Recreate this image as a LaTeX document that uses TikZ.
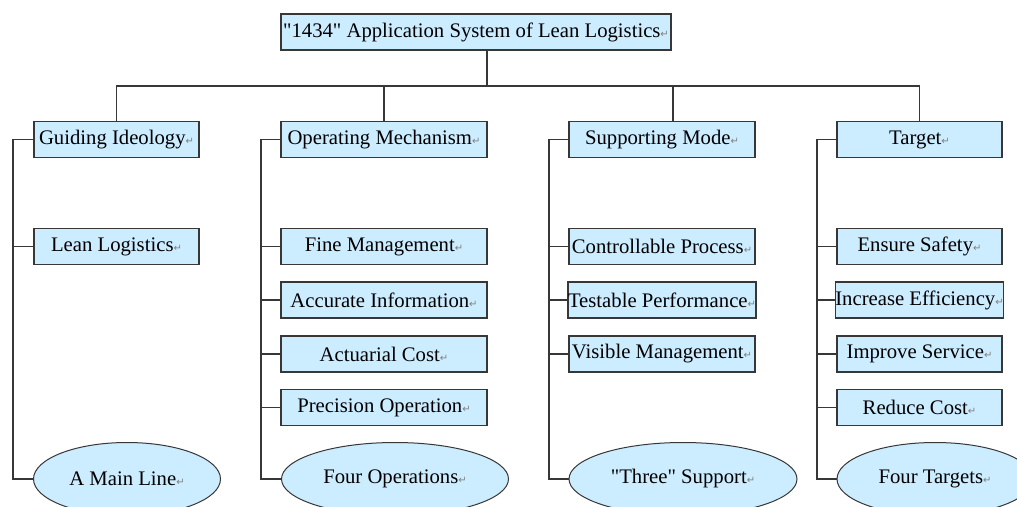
\documentclass[tikz,border=0pt]{standalone}
\usepackage{fontspec}
\setmainfont{Liberation Serif}
\newfontfamily\symfont{DejaVu Sans}
\usepackage{pgf,tikz}
\usetikzlibrary{shapes.geometric}
\definecolor{boxblue}{RGB}{204,236,255}
\definecolor{edgegray}{RGB}{55,55,55}
\newcommand{\pmark}{{\symfont\fontsize{10}{10}\selectfont\textcolor{gray}{↵}}}
\newcommand{\dq}{\textquotedbl}

\begin{document}
\begin{tikzpicture}[x=1pt,y=-1pt,font=\fontsize{20.7}{24}\selectfont,
  box/.style={draw=edgegray,line width=1.2pt,fill=boxblue,minimum height=36pt,inner sep=0pt},
  oval/.style={ellipse,draw=edgegray,line width=1pt,fill=boxblue,minimum height=73pt,inner sep=0pt},
  conn/.style={draw=edgegray,line width=1.1pt}]
\clip (0,0) rectangle (1017,506);
\fill[white] (0,0) rectangle (1017,506);
% top of the tree
\node[box,minimum width=390pt] (title) at (476,32) {\dq1434\dq{} Application System of Lean Logistics\pmark};
% guiding ideology
\node[box,minimum width=165pt] (guid) at (116.5,139.5) {Guiding Ideology\pmark};
\node[box,minimum width=165pt] (lean) at (116.5,246.5) {Lean Logistics\pmark};
\node[oval,minimum width=187pt] (mainline) at (127,479) {A Main Line\pmark};
% operating mechanism
\node[box,minimum width=206pt] (oper) at (384,139.5) {Operating Mechanism\pmark};
\node[box,minimum width=206pt] (fine) at (384,246.5) {Fine Management\pmark};
\node[box,minimum width=206pt] (accu) at (384,300) {Accurate Information\pmark};
\node[box,minimum width=206pt] (actu) at (384,354) {Actuarial Cost\pmark};
\node[box,minimum width=206pt] (prec) at (384,407.5) {Precision Operation\pmark};
\node[oval,minimum width=227pt] (fourops) at (395,479) {Four Operations\pmark};
% supporting mode
\node[box,minimum width=186pt] (supp) at (662,139.5) {Supporting Mode\pmark};
\node[box,minimum width=186pt] (ctrl) at (662,246.5) {Controllable Process\pmark};
\node[box,minimum width=186pt] (test) at (662,300) {Testable Performance\pmark};
\node[box,minimum width=186pt] (visi) at (662,354) {Visible Management\pmark};
\node[oval,minimum width=228pt] (three) at (683,479) {\dq Three\dq{} Support\pmark};
% target
\node[box,minimum width=165pt] (targ) at (919.5,139.5) {Target\pmark};
\node[box,minimum width=165pt] (safe) at (919.5,246.5) {Ensure Safety\pmark};
\node[box,minimum width=165pt] (effi) at (919.5,300) {Increase Efficiency\pmark};
\node[box,minimum width=165pt] (serv) at (919.5,354) {Improve Service\pmark};
\node[box,minimum width=165pt] (cost) at (919.5,407.5) {Reduce Cost\pmark};
\node[oval,minimum width=196pt] (fourtg) at (935,479) {Four Targets\pmark};
% connectors
\coordinate (hub) at (487,86);
\draw[conn] (title.south -| hub) -- (hub);
\draw[conn] (guid.north) |- (hub) -| (targ.north);
\draw[conn] (oper.north) -- (oper.north |- hub);
\draw[conn] ([xshift=11pt]supp.north) -- ([xshift=11pt]supp.north |- hub);
\coordinate (busa) at (13,139.5);
\coordinate (busb) at (261,139.5);
\coordinate (busc) at (549,139.5);
\coordinate (busd) at (817,139.5);
\draw[conn] (guid.west) -- (busa) |- (lean.west);
\draw[conn] (busa) |- (mainline.west);
\draw[conn] (oper.west) -- (busb) |- (fourops.west);
\foreach \n in {fine,accu,actu,prec} \draw[conn] (busb) |- (\n.west);
\draw[conn] (supp.west) -- (busc) |- (three.west);
\foreach \n in {ctrl,test,visi} \draw[conn] (busc) |- (\n.west);
\draw[conn] (targ.west) -- (busd) |- (fourtg.west);
\foreach \n in {safe,effi,serv,cost} \draw[conn] (busd) |- (\n.west);
\end{tikzpicture}
\end{document}
